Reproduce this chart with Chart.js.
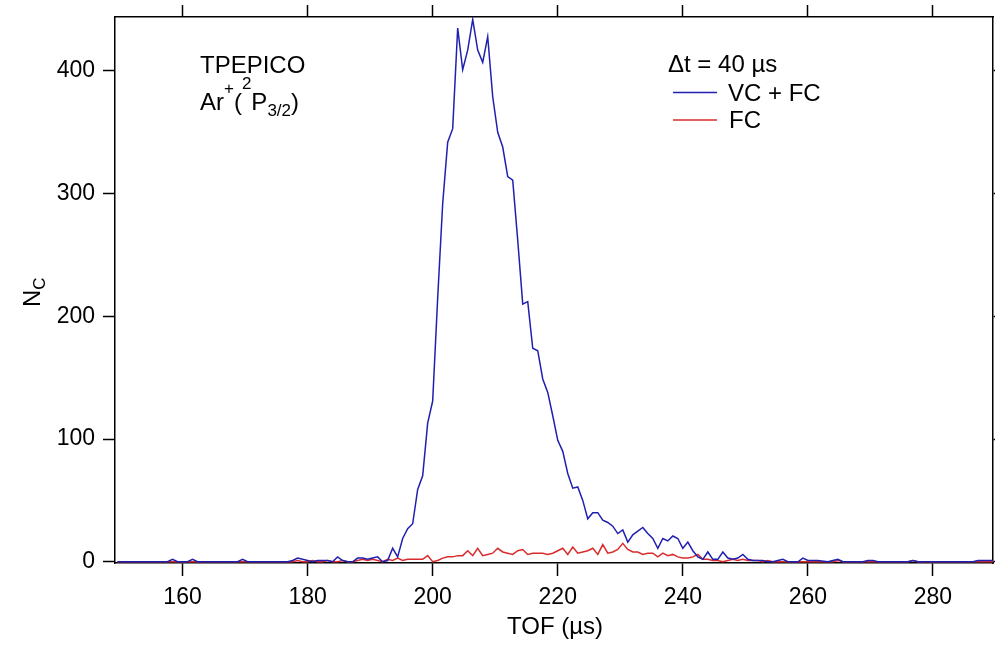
<!DOCTYPE html>
<html>
<head>
<meta charset="utf-8">
<script src="https://cdn.jsdelivr.net/npm/chart.js"></script>
<style>
  html, body { margin: 0; padding: 0; background: #fff; }
  #wrap { width: 995px; height: 646px; }
</style>
</head>
<body>
<div id="wrap"><canvas id="tofChart" width="995" height="646"></canvas></div>
<script>
// Time-of-flight bins (µs)
var tofValues = [
    149.6, 157.6, 158.4, 159.2, 160.8, 161.6, 162.4, 168.8, 169.6, 170.4, 176.8, 177.6, 178.4, 179.2,
    180.0, 180.8, 181.6, 182.4, 183.2, 184.0, 184.8, 185.6, 186.4, 187.2,
    188.0, 188.8, 189.6, 190.4, 191.2, 192.0, 192.8, 193.6, 194.4, 195.2,
    196.0, 196.8, 197.6, 198.4, 199.2, 200.0, 200.8, 201.6, 202.4, 203.2,
    204.0, 204.8, 205.6, 206.4, 207.2, 208.0, 208.8, 209.6, 210.4, 211.2,
    212.0, 212.8, 213.6, 214.4, 215.2, 216.0, 216.8, 217.6, 218.4, 219.2,
    220.0, 220.8, 221.6, 222.4, 223.2, 224.0, 224.8, 225.6, 226.4, 227.2,
    228.0, 228.8, 229.6, 230.4, 231.2, 232.0, 232.8, 233.6, 234.4, 235.2,
    236.0, 236.8, 237.6, 238.4, 239.2, 240.0, 240.8, 241.6, 242.4, 243.2,
    244.0, 244.8, 245.6, 246.4, 247.2, 248.0, 248.8, 249.6, 250.4, 251.2,
    252.0,
    252.8, 253.6, 254.4, 255.2, 256.0, 256.8, 258.4, 259.2, 260.0, 260.8, 261.6, 263.2, 264.0, 264.8,
    265.6, 268.8, 269.6, 270.4, 271.2, 276.0, 276.8, 277.6, 286.4, 287.2, 288.0, 288.8, 289.6
];

// Counts, VC + FC (blue)
var vcfcCounts = [
    0, 0, 2, 0, 0, 2, 0, 0, 2, 0, 0, 1, 3, 2,
    1, 0, 1, 1, 1, 0, 4, 1, 0, 0,
    3, 3, 2, 3, 4, 0, 1, 11, 4, 19,
    27, 31, 59, 70, 113, 131, 215, 292, 342, 353,
    435, 401, 417, 442, 417, 407, 428, 379, 350, 338,
    314, 311, 262, 210, 212, 174, 172, 149, 138, 119,
    99, 90, 72, 60, 61, 50, 35, 40, 40, 34,
    32, 29, 23, 26, 16, 22, 25, 28, 23, 19,
    11, 19, 17, 21, 19, 11, 16, 9, 4, 2,
    8, 2, 2, 8, 3, 2, 3, 6, 2, 1,
    1,
    1, 0, 0, 1, 2, 0, 0, 3, 1, 1, 1, 0, 1, 2,
    0, 0, 1, 1, 0, 0, 1, 0, 0, 1, 1, 1, 1
];

// Counts, FC only (red)
var fcCounts = [
    0, 0, 0, 0, 0, 0, 0, 0, 0, 0, 0, 0, 1, 0,
    0, 1, 0, 0, 1, 0, 0, 1, 0, 0,
    1, 2, 1, 2, 1, 0, 2, 1, 3, 1,
    2, 2, 2, 2, 5, 0, 1, 3, 4, 4,
    5, 5, 9, 5, 11, 5, 6, 7, 11, 8,
    7, 6, 9, 10, 6, 7, 7, 7, 6, 7,
    9, 11, 6, 12, 7, 8, 9, 11, 6, 14,
    7, 8, 10, 15, 10, 8, 8, 6, 7, 7,
    4, 7, 5, 6, 4, 3, 3, 4, 6, 2,
    2, 1, 1, 0, 1, 2, 1, 2, 1, 1,
    1,
    0, 1, 0, 0, 0, 0, 0, 0, 0, 0, 0, 0, 0, 1,
    0, 0, 0, 0, 0, 0, 1, 0, 0, 0, 0, 0, 0
];

var xTicks = [160, 180, 200, 220, 240, 260, 280];
var yTicks = [0, 100, 200, 300, 400];

var FONT = "'Liberation Sans', Arial, sans-serif";
var BLUE = '#2020b0';
var RED = '#d82c2c';

function toPoints(ys) {
    return tofValues.map(function (x, i) { return { x: x, y: ys[i] }; });
}

function setTicks(list) {
    return function (scale) {
        scale.ticks = list.map(function (v) { return { value: v }; });
    };
}

// fixed axis box size, no extra label padding
function fixSize(w, h) {
    return function (s) {
        if (w !== null) s.width = w;
        if (h !== null) s.height = h;
        s.paddingTop = 0; s.paddingBottom = 0;
        s.paddingLeft = 0; s.paddingRight = 0;
    };
}

// outward tick marks + black frame
function axisStyle(len) {
    return {
        grid: { drawOnChartArea: false, drawTicks: true, tickLength: len, tickColor: '#000', tickWidth: 1.5 },
        border: { display: true, color: '#000', width: 1.5 }
    };
}

// Text labels, legend and axis titles drawn on top
var textPlugin = {
    id: 'textPlugin',
    afterDraw: function (chart) {
        var ctx = chart.ctx;
        ctx.save();
        ctx.fillStyle = '#000';
        ctx.textBaseline = 'alphabetic';
        ctx.textAlign = 'left';

        ctx.font = '24px ' + FONT;
        ctx.fillText('TPEPICO', 200, 73);

        // Ar+(2P3/2)
        var x = 200;
        var parts = [
            ['Ar', 24, 110], ['+', 17, 94], ['(', 24, 110], ['2', 17, 89],
            ['P', 24, 110], ['3/2', 17, 116], [')', 24, 110]
        ];
        parts.forEach(function (p) {
            ctx.font = p[1] + 'px ' + FONT;
            ctx.fillText(p[0], x, p[2]);
            x += ctx.measureText(p[0]).width;
        });

        // legend
        ctx.font = '24px ' + FONT;
        ctx.fillText('\u0394t = 40 \u00b5s', 668, 72);
        ctx.lineWidth = 1.5;
        ctx.strokeStyle = BLUE;
        ctx.beginPath(); ctx.moveTo(673, 92.5); ctx.lineTo(717, 92.5); ctx.stroke();
        ctx.fillText('VC + FC', 728, 101);
        ctx.strokeStyle = RED;
        ctx.beginPath(); ctx.moveTo(673, 120); ctx.lineTo(717, 120); ctx.stroke();
        ctx.fillText('FC', 729, 128);

        // x axis title
        ctx.textAlign = 'center';
        ctx.fillText('TOF (\u00b5s)', 555, 634);

        // y axis title N_C (rotated)
        ctx.translate(40, 307);
        ctx.rotate(-Math.PI / 2);
        ctx.textAlign = 'left';
        ctx.font = '24px ' + FONT;
        ctx.fillText('N', 0, 0);
        var w = ctx.measureText('N').width;
        ctx.font = '17px ' + FONT;
        ctx.fillText('C', w, 5);
        ctx.restore();
    }
};

var ctx = document.getElementById('tofChart').getContext('2d');
var tofChart = new Chart(ctx, {
    type: 'line',
    data: {
        datasets: [
            {
                label: 'VC + FC',
                data: toPoints(vcfcCounts),
                borderColor: BLUE,
                borderWidth: 1.5,
                pointRadius: 0,
                tension: 0,
                fill: false,
                order: 1
            },
            {
                label: 'FC',
                data: toPoints(fcCounts),
                borderColor: RED,
                borderWidth: 1.5,
                pointRadius: 0,
                tension: 0,
                fill: false,
                order: 2
            }
        ]
    },
    options: {
        responsive: false,
        animation: false,
        layout: { padding: 0 },
        plugins: {
            legend: { display: false },
            tooltip: { enabled: false }
        },
        scales: {
            x: Object.assign({
                type: 'linear',
                position: 'bottom',
                min: 149.2,
                max: 289.6,
                afterBuildTicks: setTicks(xTicks),
                afterFit: fixSize(null, 83),
                ticks: { color: '#000', font: { family: FONT, size: 23 }, padding: 8, maxRotation: 0 }
            }, axisStyle(13)),
            x2: Object.assign({
                type: 'linear',
                position: 'top',
                min: 149.2,
                max: 289.6,
                afterBuildTicks: setTicks(xTicks),
                afterFit: fixSize(null, 17),
                ticks: { display: false }
            }, axisStyle(12)),
            y: Object.assign({
                type: 'linear',
                position: 'left',
                min: -1,
                max: 444,
                afterBuildTicks: setTicks(yTicks),
                afterFit: fixSize(115, null),
                ticks: { color: '#000', font: { family: FONT, size: 23 }, padding: 8 }
            }, axisStyle(12)),
            y2: Object.assign({
                type: 'linear',
                position: 'right',
                min: -1,
                max: 444,
                afterBuildTicks: setTicks(yTicks),
                afterFit: fixSize(2, null),
                ticks: { display: false }
            }, axisStyle(8))
        }
    },
    plugins: [textPlugin]
});
</script>
</body>
</html>
